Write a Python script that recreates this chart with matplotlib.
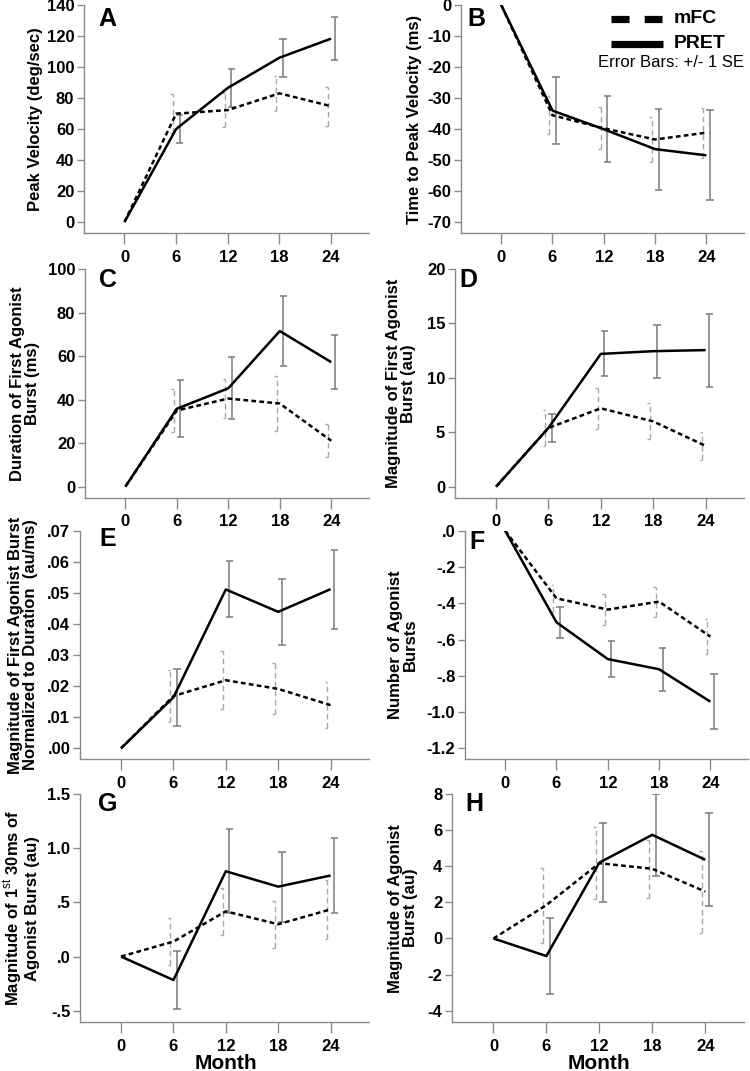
import numpy as np
import matplotlib
matplotlib.use("Agg")
import matplotlib.pyplot as plt
from matplotlib.lines import Line2D
from matplotlib.ticker import FuncFormatter

# ---------------- data ----------------
months = [0, 6, 12, 18, 24]
month_labels = ["0", "6", "12", "18", "24"]

pv_pret = [0, 60.0, 86.5, 106.0, 118.3]
pv_pret_se = [0, 9.3, 12.0, 12.3, 13.7]
pv_mfc = [0, 69.9, 72.2, 83.0, 74.7]
pv_mfc_se = [0, 12.6, 11.2, 11.5, 12.7]

ttp_pret = [0, -34.0, -40.0, -46.4, -48.4]
ttp_pret_se = [0, 10.8, 10.6, 13.0, 14.5]
ttp_mfc = [0, -35.5, -39.7, -43.3, -41.1]
ttp_mfc_se = [0, 6.1, 6.8, 7.1, 8.0]

dur_pret = [0, 35.8, 45.2, 71.5, 57.2]
dur_pret_se = [0, 13.0, 14.2, 16.0, 12.5]
dur_mfc = [0, 35.0, 40.5, 38.2, 21.1]
dur_mfc_se = [0, 10.0, 8.8, 12.8, 7.5]

mag_pret = [0, 5.4, 12.2, 12.45, 12.55]
mag_pret_se = [0, 1.3, 2.07, 2.45, 3.35]
mag_mfc = [0, 5.4, 7.2, 6.0, 3.75]
mag_mfc_se = [0, 1.63, 1.9, 1.65, 1.32]

norm_pret = [0, 0.0164, 0.0511, 0.0439, 0.0512]
norm_pret_se = [0, 0.0092, 0.0090, 0.0107, 0.0127]
norm_mfc = [0, 0.0168, 0.0219, 0.0191, 0.0139]
norm_mfc_se = [0, 0.0083, 0.0094, 0.0082, 0.0075]

nb_pret = [0, -0.505, -0.708, -0.764, -0.943]
nb_pret_se = [0, 0.085, 0.100, 0.118, 0.152]
nb_mfc = [0, -0.373, -0.435, -0.391, -0.584]
nb_mfc_se = [0, 0.0735, 0.0845, 0.083, 0.0955]

m30_pret = [0, -0.217, 0.787, 0.645, 0.748]
m30_pret_se = [0, 0.269, 0.387, 0.323, 0.342]
m30_mfc = [0, 0.138, 0.417, 0.298, 0.435]
m30_mfc_se = [0, 0.216, 0.220, 0.216, 0.273]

mab_pret = [0, -0.97, 4.2, 5.74, 4.36]
mab_pret_se = [0, 2.13, 2.17, 2.27, 2.57]
mab_mfc = [0, 1.85, 4.17, 3.86, 2.6]
mab_mfc_se = [0, 2.08, 2.0, 1.6, 2.27]

group_names = ["mFC", "PRET"]
errbar_note = "Error Bars: +/- 1 SE"
x_title = "Month"

# ---------------- style ----------------
plt.rcParams["font.family"] = ["Liberation Sans", "DejaVu Sans"]
plt.rcParams["mathtext.fontset"] = "custom"
plt.rcParams["mathtext.rm"] = "Liberation Sans"
plt.rcParams["mathtext.bf"] = "Liberation Sans:bold"

W, H = 750, 1071
fig = plt.figure(figsize=(7.5, 10.71), dpi=100)
fig.patch.set_facecolor("white")

AX_GREY = "#8a8a8a"
XLIM = (-4.7, 28.4)


def fmt_noleadzero(decimals):
    def f(v, pos):
        s = f"{v:.{decimals}f}"
        if s.startswith("-0."):
            s = "-" + s[2:]
        elif s.startswith("0."):
            s = s[1:]
        if s in ("-.0", "-.00"):
            s = s[1:]
        return s
    return FuncFormatter(f)


def make_axes(box):
    l, t, r, b = box
    ax = fig.add_axes([l / W, 1 - b / H, (r - l) / W, (b - t) / H])
    for s in ("top", "right"):
        ax.spines[s].set_visible(False)
    for s in ("left", "bottom"):
        ax.spines[s].set_color(AX_GREY)
        ax.spines[s].set_linewidth(1.0)
    ax.set_xlim(*XLIM)
    ax.set_xticks(months)
    ax.set_xticklabels(month_labels)
    ax.tick_params(axis="x", length=8, width=1, color=AX_GREY, pad=4,
                   labelsize=12)
    ax.tick_params(axis="y", length=5, width=1, color=AX_GREY, pad=2,
                   labelsize=12)
    for lab in ax.get_xticklabels() + ax.get_yticklabels():
        lab.set_fontweight("bold")
    return ax


def draw_series(ax, mean, se, solid):
    x = np.array(months, dtype=float)
    m = np.array(mean, dtype=float)
    e = np.array(se, dtype=float)
    if solid:
        ax.plot(x, m, color="black", lw=1.8, solid_capstyle="butt",
                zorder=4)
        dx, cap_l, cap_r = 0.42, 0.42, 0.42
        for xi, mi, ei in zip(x, m, e):
            if ei <= 0:
                continue
            xb = xi + dx
            ax.vlines(xb, mi - ei, mi + ei, color="#7a7a7a", lw=1.1, zorder=3)
            ax.hlines([mi - ei, mi + ei], xb - cap_l, xb + cap_r,
                      color="#7a7a7a", lw=1.1, zorder=3)
    else:
        ln, = ax.plot(x, m, color="black", lw=1.8, zorder=4,
                      dash_capstyle="butt")
        ln.set_dashes([1.9, 1.3])
        dx, cap_l = -0.37, 0.3
        for xi, mi, ei in zip(x, m, e):
            if ei <= 0:
                continue
            xb = xi + dx
            v = ax.vlines(xb, mi - ei, mi + ei, color="#a8a8a8", lw=1.0,
                          zorder=3)
            v.set_linestyle((0, (4, 2.5)))
            ax.hlines([mi - ei, mi + ei], xb - cap_l, xb, color="#a8a8a8",
                      lw=1.0, zorder=3)


def ylabel(text, cx, ax_box):
    l, t, r, b = ax_box
    cy = (t + b) / 2
    fig.text(cx / W, 1 - cy / H, text, rotation=90, ha="center", va="center",
             multialignment="center", fontsize=12, fontweight="bold",
             linespacing=1.05)


def letter(text, x, y):
    fig.text(x / W, 1 - y / H, text, ha="left", va="top", fontsize=18,
             fontweight="bold")


panels = [
    dict(box=(84, 5, 369, 233.3), ylim=(-7.3, 140), ticks=(0, 140, 20), dec=0,
         pret=pv_pret, pret_se=pv_pret_se, mfc=pv_mfc, mfc_se=pv_mfc_se,
         lab="Peak Velocity (deg/sec)", lx=36, let="A", lpos=(98, 7)),
    dict(box=(461, 5, 744, 233.3), ylim=(-73.5, 0), ticks=(-70, 0, 10), dec=0,
         pret=ttp_pret, pret_se=ttp_pret_se, mfc=ttp_mfc, mfc_se=ttp_mfc_se,
         lab="Time to Peak Velocity (ms)", lx=415, let="B", lpos=(467, 7)),
    dict(box=(85, 269, 369, 497.7), ylim=(-5.05, 100), ticks=(0, 100, 20), dec=0,
         pret=dur_pret, pret_se=dur_pret_se, mfc=dur_mfc, mfc_se=dur_mfc_se,
         lab="Duration of First Agonist\nBurst (ms)", lx=25, let="C",
         lpos=(99, 268)),
    dict(box=(455, 269, 744, 497.7), ylim=(-1.01, 20), ticks=(0, 20, 5), dec=0,
         pret=mag_pret, pret_se=mag_pret_se, mfc=mag_mfc, mfc_se=mag_mfc_se,
         lab="Magnitude of First Agonist\nBurst (au)", lx=401, let="D",
         lpos=(459, 268)),
    dict(box=(80, 530.7, 369, 759), ylim=(-0.00344, 0.07),
         ticks=(0, 0.07, 0.01), dec=2,
         pret=norm_pret, pret_se=norm_pret_se, mfc=norm_mfc,
         mfc_se=norm_mfc_se,
         lab="Magnitude of First Agonist Burst\nNormalized to Duration  (au/ms)",
         lx=23, let="E", lpos=(99, 527)),
    dict(box=(465, 530.7, 748, 759), ylim=(-1.259, 0), ticks=(-1.2, 0, 0.2),
         dec=1,
         pret=nb_pret, pret_se=nb_pret_se, mfc=nb_mfc, mfc_se=nb_mfc_se,
         lab="Number of Agonist\nBursts", lx=403, let="F", lpos=(469, 530)),
    dict(box=(80, 794, 369, 1022.3), ylim=(-0.607, 1.5), ticks=(-0.5, 1.5, 0.5),
         dec=1,
         pret=m30_pret, pret_se=m30_pret_se, mfc=m30_mfc, mfc_se=m30_mfc_se,
         lab="Magnitude of 1$^{\\mathrm{st}}$ 30ms of\nAgonist Burst (au)",
         lx=21, let="G", lpos=(98, 792)),
    dict(box=(452, 794, 744, 1022.3), ylim=(-4.64, 8), ticks=(-4, 8, 2), dec=0,
         pret=mab_pret, pret_se=mab_pret_se, mfc=mab_mfc, mfc_se=mab_mfc_se,
         lab="Magnitude of Agonist\nBurst (au)", lx=403, let="H",
         lpos=(465, 792)),
]

axes = []
for p in panels:
    ax = make_axes(p["box"])
    ax.set_ylim(*p["ylim"])
    lo, hi, st = p["ticks"]
    ax.set_yticks(np.round(np.arange(lo, hi + st / 2, st), 6))
    ax.yaxis.set_major_formatter(fmt_noleadzero(p["dec"]))
    for lab in ax.get_yticklabels():
        lab.set_fontweight("bold")
    draw_series(ax, p["mfc"], p["mfc_se"], solid=False)
    draw_series(ax, p["pret"], p["pret_se"], solid=True)
    ylabel(p["lab"], p["lx"], p["box"])
    letter(p["let"], *p["lpos"])
    axes.append(ax)

# x titles on the bottom row
for ax, p in zip(axes[6:], panels[6:]):
    l, t, r, b = p["box"]
    ax.set_xlabel(x_title, fontsize=15, fontweight="bold")
    xf = (12 - XLIM[0]) / (XLIM[1] - XLIM[0])
    ax.xaxis.set_label_coords(xf, -(1054 - b) / (b - t))

# legend (figure level)
def fy(y):
    return 1 - y / H

l1 = Line2D([611 / W, 662 / W], [fy(18.5), fy(18.5)], transform=fig.transFigure,
            color="black", lw=5.2, solid_capstyle="butt",
            dash_capstyle="butt")
l1.set_dashes([2.5, 2.1])
fig.add_artist(l1)
l2 = Line2D([611 / W, 663 / W], [fy(43.5), fy(43.5)], transform=fig.transFigure,
            color="black", lw=5.2, solid_capstyle="butt")
fig.add_artist(l2)
fig.text(674 / W, fy(18.5), group_names[0], ha="left", va="center",
         fontsize=14, fontweight="bold")
fig.text(674 / W, fy(43.5), group_names[1], ha="left", va="center",
         fontsize=14, fontweight="bold")
fig.text(671 / W, fy(62.5), errbar_note, ha="center", va="center",
         fontsize=12)

fig.savefig("out.png", dpi=100, facecolor="white")
